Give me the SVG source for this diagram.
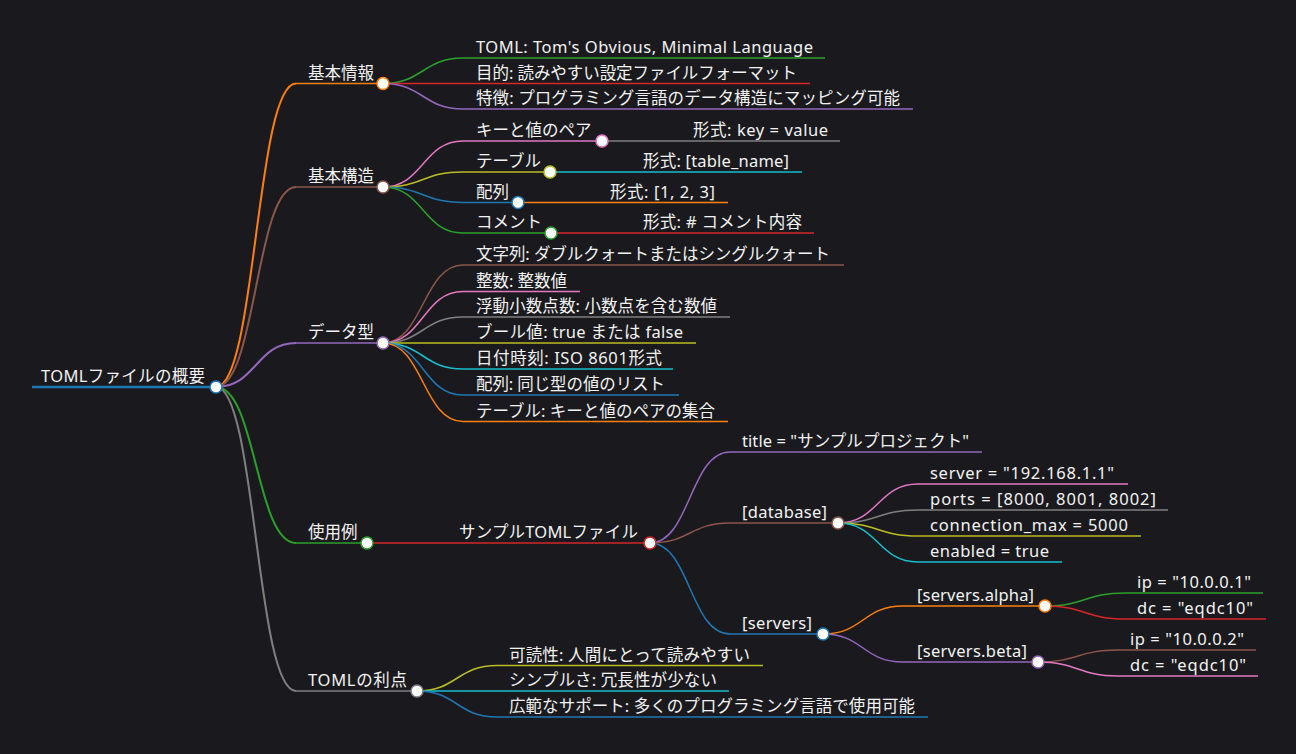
<svg xmlns="http://www.w3.org/2000/svg" width="1296" height="754" viewBox="0 0 1296 754">
<style>
text{font-family:"Noto Sans","Noto Sans CJK JP",sans-serif;font-size:16.5px;fill:#f2f2f2}
.lk{fill:none;stroke-width:1.5}
.lk1{fill:none;stroke-width:2}
.ul{stroke-width:1.5}
circle{fill:#fff;stroke-width:1.5}
</style>
<rect width="1296" height="754" fill="#1a1a1e"/>
<g id="connectors">
<path class="lk1" stroke="#ff7f0e" d="M216,387C256,387 256,83.5 296,83.5"/>
<path class="lk1" stroke="#8c564b" d="M216,387C256,387 256,187 296,187"/>
<path class="lk1" stroke="#9467bd" d="M216,387C256,387 256,343 296,343"/>
<path class="lk1" stroke="#2ca02c" d="M216,387C256,387 256,543 296,543"/>
<path class="lk1" stroke="#7f7f7f" d="M216,387C256,387 256,691 296,691"/>
<path class="lk" stroke="#2ca02c" d="M383,83.5C423,83.5 423,58 463,58"/>
<path class="lk" stroke="#d62728" d="M383,83.5L463,83.5"/>
<path class="lk" stroke="#9467bd" d="M383,83.5C423,83.5 423,109 463,109"/>
<path class="lk" stroke="#e377c2" d="M383,187C423,187 423,141 463,141"/>
<path class="lk" stroke="#bcbd22" d="M383,187C423,187 423,172 463,172"/>
<path class="lk" stroke="#1f77b4" d="M383,187C423,187 423,202.5 463,202.5"/>
<path class="lk" stroke="#2ca02c" d="M383,187C423,187 423,233 463,233"/>
<path class="lk" stroke="#7f7f7f" d="M602,141L682,141"/>
<path class="lk" stroke="#17becf" d="M550,172L630,172"/>
<path class="lk" stroke="#ff7f0e" d="M518,202.5L598,202.5"/>
<path class="lk" stroke="#d62728" d="M551,233L631,233"/>
<path class="lk" stroke="#8c564b" d="M383,343C423,343 423,265 463,265"/>
<path class="lk" stroke="#e377c2" d="M383,343C423,343 423,291.5 463,291.5"/>
<path class="lk" stroke="#7f7f7f" d="M383,343C423,343 423,317 463,317"/>
<path class="lk" stroke="#bcbd22" d="M383,343L463,343"/>
<path class="lk" stroke="#17becf" d="M383,343C423,343 423,369 463,369"/>
<path class="lk" stroke="#1f77b4" d="M383,343C423,343 423,395 463,395"/>
<path class="lk" stroke="#ff7f0e" d="M383,343C423,343 423,421.5 463,421.5"/>
<path class="lk" stroke="#d62728" d="M367,543L447,543"/>
<path class="lk" stroke="#9467bd" d="M650,543C690,543 690,452 730,452"/>
<path class="lk" stroke="#8c564b" d="M650,543C690,543 690,523 730,523"/>
<path class="lk" stroke="#1f77b4" d="M650,543C690,543 690,634 730,634"/>
<path class="lk" stroke="#e377c2" d="M838,523C878,523 878,484 918,484"/>
<path class="lk" stroke="#7f7f7f" d="M838,523C878,523 878,510 918,510"/>
<path class="lk" stroke="#bcbd22" d="M838,523C878,523 878,536 918,536"/>
<path class="lk" stroke="#17becf" d="M838,523C878,523 878,562 918,562"/>
<path class="lk" stroke="#ff7f0e" d="M823,634C863,634 863,606 903,606"/>
<path class="lk" stroke="#9467bd" d="M823,634C863,634 863,662 903,662"/>
<path class="lk" stroke="#2ca02c" d="M1045,606C1085,606 1085,593 1125,593"/>
<path class="lk" stroke="#d62728" d="M1045,606C1085,606 1085,619 1125,619"/>
<path class="lk" stroke="#8c564b" d="M1038,662C1078,662 1078,650 1118,650"/>
<path class="lk" stroke="#e377c2" d="M1038,662C1078,662 1078,676 1118,676"/>
<path class="lk" stroke="#bcbd22" d="M417,691C457,691 457,665.5 497,665.5"/>
<path class="lk" stroke="#17becf" d="M417,691L497,691"/>
<path class="lk" stroke="#1f77b4" d="M417,691C457,691 457,717 497,717"/>
</g>
<g id="n-root"><line x1="32" y1="387" x2="216" y2="387" stroke="#1f77b4" stroke-width="2.5"/><circle cx="216" cy="387" r="6" stroke="#1f77b4"/><text x="41" y="382" textLength="164">TOMLファイルの概要</text></g>
<g id="n-kihon-joho"><line class="ul" x1="296" y1="83.5" x2="383" y2="83.5" stroke="#ff7f0e"/><circle cx="383" cy="83.5" r="6" stroke="#ff7f0e"/><text x="308" y="78.5">基本情報</text></g>
<g id="n-toml"><line class="ul" x1="463" y1="58" x2="825" y2="58" stroke="#2ca02c"/><text x="476" y="53" textLength="337">TOML: Tom's Obvious, Minimal Language</text></g>
<g id="n-mokuteki"><line class="ul" x1="463" y1="83.5" x2="810" y2="83.5" stroke="#d62728"/><text x="476" y="78.5" textLength="321">目的: 読みやすい設定ファイルフォーマット</text></g>
<g id="n-tokucho"><line class="ul" x1="463" y1="109" x2="913" y2="109" stroke="#9467bd"/><text x="476" y="104" textLength="424">特徴: プログラミング言語のデータ構造にマッピング可能</text></g>
<g id="n-kihon-kozo"><line class="ul" x1="296" y1="187" x2="383" y2="187" stroke="#8c564b"/><circle cx="383" cy="187" r="6" stroke="#8c564b"/><text x="308" y="182">基本構造</text></g>
<g id="n-kv"><line class="ul" x1="463" y1="141" x2="602" y2="141" stroke="#e377c2"/><circle cx="602" cy="141" r="6" stroke="#e377c2"/><text x="476" y="136">キーと値のペア</text></g>
<g id="n-kv-f"><line class="ul" x1="682" y1="141" x2="840" y2="141" stroke="#7f7f7f"/><text x="693" y="136" textLength="135">形式: key = value</text></g>
<g id="n-table"><line class="ul" x1="463" y1="172" x2="550" y2="172" stroke="#bcbd22"/><circle cx="550" cy="172" r="6" stroke="#bcbd22"/><text x="476" y="167">テーブル</text></g>
<g id="n-table-f"><line class="ul" x1="630" y1="172" x2="802" y2="172" stroke="#17becf"/><text x="643" y="167" textLength="146">形式: [table_name]</text></g>
<g id="n-array"><line class="ul" x1="463" y1="202.5" x2="518" y2="202.5" stroke="#1f77b4"/><circle cx="518" cy="202.5" r="6" stroke="#1f77b4"/><text x="476" y="197.5">配列</text></g>
<g id="n-array-f"><line class="ul" x1="598" y1="202.5" x2="728" y2="202.5" stroke="#ff7f0e"/><text x="610" y="197.5" textLength="105">形式: [1, 2, 3]</text></g>
<g id="n-comment"><line class="ul" x1="463" y1="233" x2="551" y2="233" stroke="#2ca02c"/><circle cx="551" cy="233" r="6" stroke="#2ca02c"/><text x="476" y="228">コメント</text></g>
<g id="n-comment-f"><line class="ul" x1="631" y1="233" x2="814" y2="233" stroke="#d62728"/><text x="643" y="228" textLength="159">形式: # コメント内容</text></g>
<g id="n-datatype"><line class="ul" x1="296" y1="343" x2="383" y2="343" stroke="#9467bd"/><circle cx="383" cy="343" r="6" stroke="#9467bd"/><text x="308" y="338">データ型</text></g>
<g id="n-dt-str"><line class="ul" x1="463" y1="265" x2="844" y2="265" stroke="#8c564b"/><text x="476" y="260" textLength="354">文字列: ダブルクォートまたはシングルクォート</text></g>
<g id="n-dt-int"><line class="ul" x1="463" y1="291.5" x2="580" y2="291.5" stroke="#e377c2"/><text x="476" y="286.5" textLength="91">整数: 整数値</text></g>
<g id="n-dt-float"><line class="ul" x1="463" y1="317" x2="730" y2="317" stroke="#7f7f7f"/><text x="476" y="312" textLength="241">浮動小数点数: 小数点を含む数値</text></g>
<g id="n-dt-bool"><line class="ul" x1="463" y1="343" x2="696" y2="343" stroke="#bcbd22"/><text x="476" y="338" textLength="207">ブール値: true または false</text></g>
<g id="n-dt-date"><line class="ul" x1="463" y1="369" x2="673" y2="369" stroke="#17becf"/><text x="476" y="364" textLength="186">日付時刻: ISO 8601形式</text></g>
<g id="n-dt-array"><line class="ul" x1="463" y1="395" x2="679" y2="395" stroke="#1f77b4"/><text x="476" y="390" textLength="189">配列: 同じ型の値のリスト</text></g>
<g id="n-dt-table"><line class="ul" x1="463" y1="421.5" x2="728" y2="421.5" stroke="#ff7f0e"/><text x="476" y="416.5" textLength="239">テーブル: キーと値のペアの集合</text></g>
<g id="n-usage"><line class="ul" x1="296" y1="543" x2="367" y2="543" stroke="#2ca02c"/><circle cx="367" cy="543" r="6" stroke="#2ca02c"/><text x="308" y="538">使用例</text></g>
<g id="n-sample"><line class="ul" x1="447" y1="543" x2="650" y2="543" stroke="#d62728"/><circle cx="650" cy="543" r="6" stroke="#d62728"/><text x="459" y="538" textLength="179">サンプルTOMLファイル</text></g>
<g id="n-title"><line class="ul" x1="730" y1="452" x2="982" y2="452" stroke="#9467bd"/><text x="742" y="447" textLength="227">title = "サンプルプロジェクト"</text></g>
<g id="n-database"><line class="ul" x1="730" y1="523" x2="838" y2="523" stroke="#8c564b"/><circle cx="838" cy="523" r="6" stroke="#8c564b"/><text x="742" y="518" textLength="85">[database]</text></g>
<g id="n-db-server"><line class="ul" x1="918" y1="484" x2="1128" y2="484" stroke="#e377c2"/><text x="930" y="479" textLength="184">server = "192.168.1.1"</text></g>
<g id="n-db-ports"><line class="ul" x1="918" y1="510" x2="1168" y2="510" stroke="#7f7f7f"/><text x="930" y="505" textLength="226">ports = [8000, 8001, 8002]</text></g>
<g id="n-db-conn"><line class="ul" x1="918" y1="536" x2="1141" y2="536" stroke="#bcbd22"/><text x="930" y="531" textLength="198">connection_max = 5000</text></g>
<g id="n-db-enabled"><line class="ul" x1="918" y1="562" x2="1062" y2="562" stroke="#17becf"/><text x="930" y="557" textLength="119">enabled = true</text></g>
<g id="n-servers"><line class="ul" x1="730" y1="634" x2="823" y2="634" stroke="#1f77b4"/><circle cx="823" cy="634" r="6" stroke="#1f77b4"/><text x="742" y="629" textLength="70">[servers]</text></g>
<g id="n-alpha"><line class="ul" x1="903" y1="606" x2="1045" y2="606" stroke="#ff7f0e"/><circle cx="1045" cy="606" r="6" stroke="#ff7f0e"/><text x="917" y="601" textLength="117">[servers.alpha]</text></g>
<g id="n-alpha-ip"><line class="ul" x1="1125" y1="593" x2="1263" y2="593" stroke="#2ca02c"/><text x="1137" y="588" textLength="114">ip = "10.0.0.1"</text></g>
<g id="n-alpha-dc"><line class="ul" x1="1125" y1="619" x2="1266" y2="619" stroke="#d62728"/><text x="1137" y="614" textLength="116">dc = "eqdc10"</text></g>
<g id="n-beta"><line class="ul" x1="903" y1="662" x2="1038" y2="662" stroke="#9467bd"/><circle cx="1038" cy="662" r="6" stroke="#9467bd"/><text x="917" y="657" textLength="110">[servers.beta]</text></g>
<g id="n-beta-ip"><line class="ul" x1="1118" y1="650" x2="1256" y2="650" stroke="#8c564b"/><text x="1130" y="645" textLength="114">ip = "10.0.0.2"</text></g>
<g id="n-beta-dc"><line class="ul" x1="1118" y1="676" x2="1258" y2="676" stroke="#e377c2"/><text x="1130" y="671" textLength="116">dc = "eqdc10"</text></g>
<g id="n-merits"><line class="ul" x1="296" y1="691" x2="417" y2="691" stroke="#7f7f7f"/><circle cx="417" cy="691" r="6" stroke="#7f7f7f"/><text x="308" y="686" textLength="99">TOMLの利点</text></g>
<g id="n-m-read"><line class="ul" x1="497" y1="665.5" x2="763" y2="665.5" stroke="#bcbd22"/><text x="509" y="660.5" textLength="241">可読性: 人間にとって読みやすい</text></g>
<g id="n-m-simple"><line class="ul" x1="497" y1="691" x2="729" y2="691" stroke="#17becf"/><text x="509" y="686" textLength="208">シンプルさ: 冗長性が少ない</text></g>
<g id="n-m-support"><line class="ul" x1="497" y1="717" x2="928" y2="717" stroke="#1f77b4"/><text x="509" y="712" textLength="406">広範なサポート: 多くのプログラミング言語で使用可能</text></g>
</svg>
